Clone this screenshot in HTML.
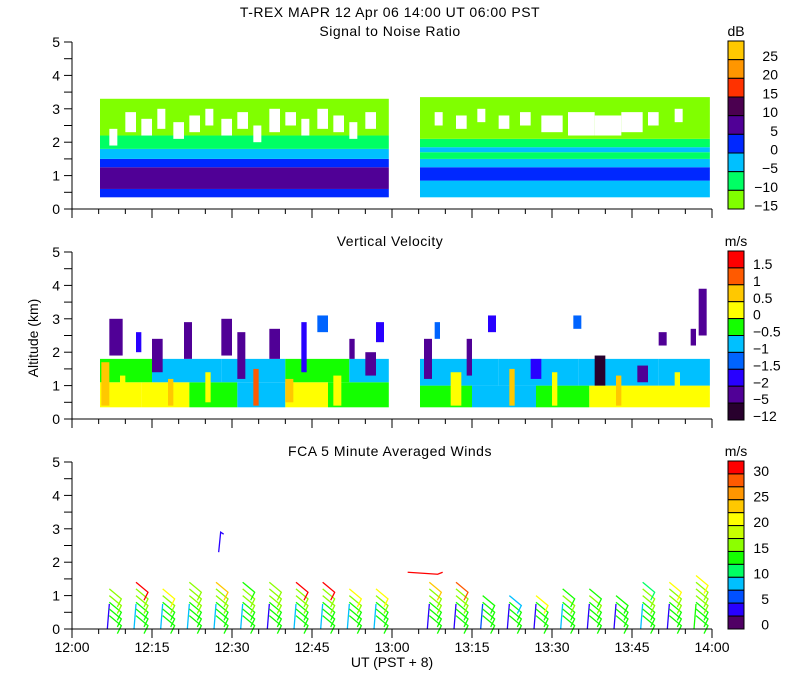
<!DOCTYPE html>
<html><head><meta charset="utf-8"><style>
html,body{margin:0;padding:0;background:#fff;}
svg{display:block;font-family:"Liberation Sans",sans-serif;}
text{fill:#000;font-size:14px;}
</style></head><body>
<svg id="chart" width="800" height="700" viewBox="0 0 800 700" xmlns="http://www.w3.org/2000/svg">
<text x="390" y="17" text-anchor="middle" font-size="15" letter-spacing="0.5">T-REX  MAPR 12 Apr 06  14:00 UT  06:00  PST</text>
<text x="390" y="36" text-anchor="middle" letter-spacing="0.5">Signal to Noise Ratio</text>
<text x="390" y="246" text-anchor="middle" letter-spacing="0.5">Vertical Velocity</text>
<text x="390" y="456" text-anchor="middle" letter-spacing="0.5">FCA 5 Minute Averaged Winds</text>
<text x="0" y="0" font-size="12" text-anchor="middle" transform="translate(38,338) rotate(-90)">Altitude (km)</text>
<text x="392" y="667" text-anchor="middle">UT  (PST + 8)</text>
<g id="layer"></g>
</svg>
<script>
// ---- data ----
const xTickLabels = ["12:00","12:15","12:30","12:45","13:00","13:15","13:30","13:45","14:00"];
const yTickLabels = ["0","1","2","3","4","5"];
const snrLabels = ["25","20","15","10","5","0","\u22125","\u221210","\u221215"];
const snrColors = ["#ffc800","#ff9600","#ff3200","#4b0050","#500096","#0028ff","#00c0ff","#00ff64","#80ff00"];
const vvLabels = ["1.5","1","0.5","0","\u22120.5","\u22121","\u22121.5","\u22122","\u22125","\u221212"];
const vvColors = ["#ff0000","#ff5a00","#ffc800","#ffff00","#14ff00","#00c0ff","#0064ff","#2800ff","#500096","#28002d"];
const windLabels = ["30","25","20","15","10","5","0"];
const windColors = ["#ff0000","#ff5a00","#ff9600","#ffc800","#ffff00","#c8ff00","#8cff00","#14ff00","#00ff64","#00c0ff","#0050ff","#2800ff","#500064"];
const segStart = [5.25, 65.25];
const segEnd = [59.4, 119.6];
// SNR bands per segment
const snrBandLo = [[0.35,0.6,1.25,1.5,1.8,2.2],[0.35,0.85,1.25,1.5,1.7,1.85,2.1]];
const snrBandHi = [[0.6,1.25,1.5,1.8,2.2,3.3],[0.85,1.25,1.5,1.7,1.85,2.1,3.35]];
const snrBandC  = [[5,4,5,6,7,8],[6,5,6,7,6,7,8]];
// white gaps in SNR upper layer
const snrGapT  = [7,10,13,16,19,22,25,28,31,34,37,40,43,46,49,52,55,68,72,76,80,84,88,93,98,103,108,113];
const snrGapW  = [1.5,2,2,1.5,2,2,1.5,2,2,1.5,2,2,1.5,2,2,1.5,2,1.5,2,1.5,2,2,4,5,5,4,2,1.5];
const snrGapLo = [1.9,2.3,2.2,2.4,2.1,2.3,2.5,2.2,2.4,2.0,2.3,2.5,2.2,2.4,2.3,2.1,2.4,2.5,2.4,2.6,2.4,2.5,2.3,2.2,2.2,2.3,2.5,2.6];
const snrGapHi = [2.4,2.9,2.7,3.0,2.6,2.8,3.0,2.7,2.9,2.5,3.0,2.9,2.7,3.0,2.8,2.6,2.9,2.9,2.8,3.0,2.8,2.9,2.8,2.9,2.8,2.9,2.9,3.0];
// VV blocks: t0, t1, lo, hi, color
const vvT0 = [5.25,13,22,31,40,48, 5.25,15,28,40,52, 65.25,75,87,97,108, 65.25,80,95,110];
const vvT1 = [13,22,31,40,48,59.4, 15,28,40,52,59.4, 75,87,97,108,119.6, 80,95,110,119.6];
const vvLo = [0.35,0.35,0.35,0.35,0.35,0.35, 1.1,1.1,1.1,1.1,1.1, 0.35,0.35,0.35,0.35,0.35, 1.0,1.0,1.0,1.0];
const vvHi = [1.1,1.1,1.1,1.1,1.1,1.1, 1.8,1.8,1.8,1.8,1.8, 1.0,1.0,1.0,1.0,1.0, 1.8,1.8,1.8,1.8];
const vvC  = [3,3,4,5,3,4, 4,5,5,4,5, 4,5,4,3,3, 5,5,5,5];
// VV stripes: time, width, lo, hi, color
const vvStrT  = [5.5,7,9,12,15,18,21,25,28,31,34,37,40,43,46,49,52,55,57,66,68,71,74,78,82,86,90,94,98,102,106,110,113,116,117.5];
const vvStrW  = [1.5,2.5,1,1,2,1,1.5,1,2,1.5,1,2,1.5,1,2,1.5,1,2,1.5,1.5,1,2,1,1.5,1,2,1,1.5,2,1,2,1.5,1,1,1.5];
const vvStrLo = [0.4,1.9,0.4,2.0,1.4,0.4,1.8,0.5,1.9,1.2,0.4,1.8,0.5,1.4,2.6,0.4,1.8,1.3,2.3,1.2,2.4,0.4,1.3,2.6,0.4,1.2,0.4,2.7,1.0,0.4,1.1,2.2,0.4,2.2,2.5];
const vvStrHi = [1.7,3.0,1.3,2.6,2.4,1.2,2.9,1.4,3.0,2.6,1.5,2.7,1.2,2.9,3.1,1.3,2.4,2.0,2.9,2.4,2.9,1.4,2.4,3.1,1.5,1.8,1.4,3.1,1.9,1.3,1.6,2.6,1.4,2.7,3.9];
const vvStrC  = [2,8,3,7,8,2,8,3,8,8,1,8,2,7,6,3,8,8,7,8,6,3,8,7,2,7,3,6,9,2,8,8,3,8,8];
// Winds
const windT   = [7,12,17,22,27,32,37,42,47,52,57,67,72,77,82,87,92,97,102,107,112,117];
const windTop = [1.3,1.5,1.3,1.5,1.5,1.5,1.5,1.5,1.5,1.3,1.3,1.5,1.5,1.1,1.1,1.1,1.3,1.3,1.1,1.5,1.5,1.7];
const windC   = [6,0,4,6,3,7,6,0,0,4,4,3,1,7,9,4,7,7,7,8,4,4];
const windStaff = [11,9,9,9,9,9,11,9,9,9,9,11,11,10,11,11,9,11,11,9,11,7];
const windUpperT = [27.5, 62];
const windUpperA = [2.6, 1.7];
const windUpperC = [11, 0];

// ---- helpers ----
const NS="http://www.w3.org/2000/svg";
const layer=document.getElementById('layer');
const X0=72, X1=712, KM=33.4;
const bases=[209,419,629];
function xs(t){return X0+t*(X1-X0)/120;}
function ys(p,a){return bases[p]-a*KM;}
function mk(tag,attrs,parent){const e=document.createElementNS(NS,tag);for(const k in attrs)e.setAttribute(k,attrs[k]);(parent||layer).appendChild(e);return e;}
function rect(p,t0,t1,a0,a1,c,g){return mk('rect',{x:xs(t0),y:ys(p,a1),width:Math.max(0,xs(t1)-xs(t0)),height:(a1-a0)*KM,fill:c},g);}

// SNR panel
const g1=mk('g',{});


for(let s=0;s<2;s++){
  for(let i=0;i<snrBandLo[s].length;i++){
    const r=rect(0,segStart[s],segEnd[s],snrBandLo[s][i],snrBandHi[s][i],snrColors[snrBandC[s][i]],g1);
    
    
  }
}
for(let i=0;i<snrGapT.length;i++){
  const r=rect(0,snrGapT[i],snrGapT[i]+snrGapW[i],snrGapLo[i],snrGapHi[i],"#ffffff",g1);
  
  
}
// VV panel
const g2=mk('g',{});


for(let i=0;i<vvT0.length;i++){
  const r=rect(1,vvT0[i],vvT1[i],vvLo[i],vvHi[i],vvColors[vvC[i]],g2);
  
  
}
for(let i=0;i<vvStrT.length;i++){
  const r=rect(1,vvStrT[i],vvStrT[i]+vvStrW[i],vvStrLo[i],vvStrHi[i],vvColors[vvStrC[i]],g2);
  
  
}
// Winds
const g3=mk('g',{'stroke-width':1.3,fill:'none'});


for(let i=0;i<windT.length;i++){
  const x=xs(windT[i]);
  const st=mk('line',{x1:x-2,y1:ys(2,0),x2:x,y2:ys(2,0.75),stroke:windColors[windStaff[i]]},g3);
  
  
  for(let a=0.4;a<=windTop[i]+0.01;a+=0.2){
    const ci=a>windTop[i]-0.25?windC[i]:(a>0.8?6:7);
    const y=ys(2,a);
    const b=mk('polyline',{points:`${x},${y} ${x+12},${y+10} ${x+8},${y+18}`,stroke:windColors[ci]},g3);
    
    
  }
}
for(let i=0;i<windUpperT.length;i++){
  const x=xs(windUpperT[i]),y=ys(2,windUpperA[i]);
  const l=mk('polyline',{points:i==0?`${x},${y+10} ${x+2},${y-10} ${x+5},${y-8}`:`${x+5},${y} ${x+35},${y+2} ${x+40},${y}`,stroke:windColors[windUpperC[i]]},g3);
  
  
}

// axes
const tops=[42,252,462];
for(let p=0;p<3;p++){
  const ga=mk('g',{stroke:'#000','stroke-width':1});
  
  
  mk('line',{x1:X0,y1:tops[p],x2:X0,y2:bases[p]},ga);
  mk('line',{x1:X0,y1:bases[p],x2:X1,y2:bases[p]},ga);
  for(let a=0;a<=5;a+=0.5) mk('line',{x1:X0-8,y1:ys(p,a),x2:X0,y2:ys(p,a)},ga);
  for(let t=0;t<=120;t+=5) mk('line',{x1:xs(t),y1:bases[p],x2:xs(t),y2:bases[p]+(t%15==0?9:5)},ga);
  yTickLabels.forEach((lab,k)=>{
    const tx=mk('text',{x:60,y:ys(p,k)+5,'text-anchor':'end'});
    tx.textContent=lab;
    
    
  });
}
xTickLabels.forEach((lab,k)=>{
  const tx=mk('text',{x:xs(k*15),y:652,'text-anchor':'middle'});
  tx.textContent=lab;
  
  
});

// colorbars
function colorbar(name,colors,labels,top,bot,unit,anchor,lx,ly0,ldy){
  const g=mk('g',{});
  
  
  const h=(bot-top)/colors.length;
  colors.forEach((c,i)=>{
    const r=mk('rect',{x:728,y:top+i*h,width:16,height:h,fill:c,stroke:'#000','stroke-width':1},g);
    
    
  });
  labels.forEach((l,i)=>{
    const t=mk('text',{x:lx,y:ly0+i*ldy+5,'text-anchor':anchor},g);
    t.textContent=l;
    
    
  });
  const u=mk('text',{x:736,y:top-5,'text-anchor':'middle'},g);
  u.textContent=unit;
  
  
}
colorbar('snr-colorbar',snrColors,snrLabels,41,209,'dB','end',778,56,18.7);
colorbar('vv-colorbar',vvColors,vvLabels,251,420,'m/s','start',753,264,16.9);
colorbar('wind-colorbar',windColors,windLabels,461,629,'m/s','end',769,471,25.6);
</script>
</body></html>
